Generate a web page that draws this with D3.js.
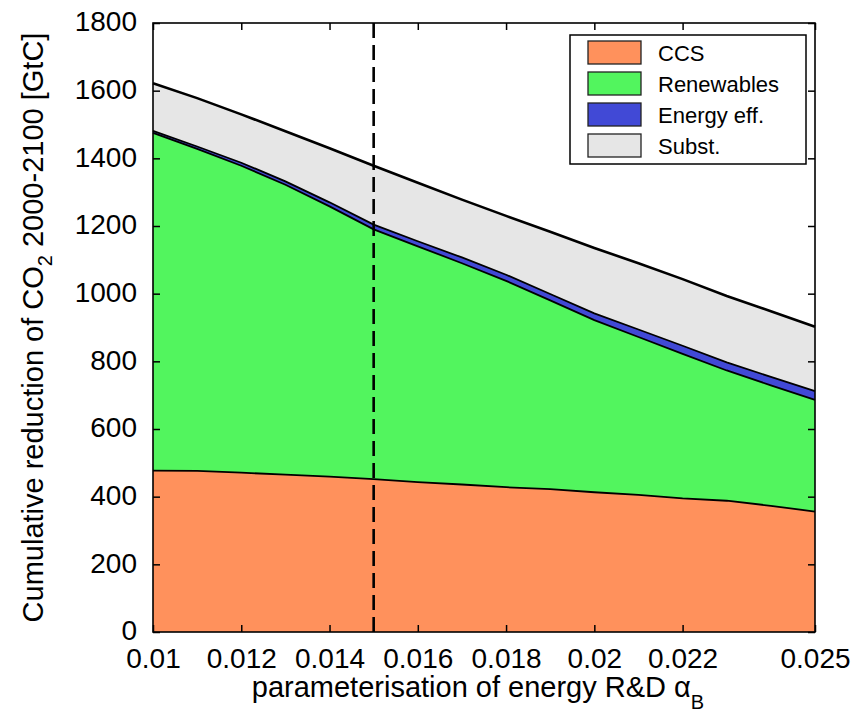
<!DOCTYPE html>
<html>
<head>
<meta charset="utf-8">
<script src="https://cdn.jsdelivr.net/npm/d3@7"></script>
<style>
  html, body { margin: 0; padding: 0; background: #fff; }
  svg { display: block; font-family: "Liberation Sans", Arial, Helvetica, sans-serif; }
</style>
</head>
<body>
<svg id="chart" width="863" height="714"></svg>
<script>
// Energy R&D parameter values (x axis)
const alphaB = [0.010, 0.011, 0.012, 0.013, 0.014, 0.015, 0.016, 0.017,
                0.018, 0.019, 0.020, 0.021, 0.022, 0.023, 0.024, 0.025];

// Contribution of each option to cumulative CO2 reduction 2000-2100 [GtC]
const ccs        = [477, 476, 471, 465, 459, 452, 443, 436, 428, 422, 413, 405, 395, 388, 373, 356];
const renewables = [998, 952, 907, 857, 799, 738, 697, 654, 610, 558, 509, 467, 427, 385, 356, 330];
const energyEff  = [6, 7, 9, 10, 12, 14, 15, 17, 18, 19, 20, 22, 24, 24, 25, 26];
const subst      = [141, 143, 143, 148, 160, 174, 173, 171, 174, 184, 193, 196, 197, 196, 194, 190];

const seriesNames  = ["CCS", "Renewables", "Energy eff.", "Subst."];
const seriesColors = ["#ff915c", "#52f55e", "#4149d6", "#e6e6e6"];

const xTicks = [0.010, 0.012, 0.014, 0.016, 0.018, 0.020, 0.022, 0.025];
const xTickLabels = ["0.01", "0.012", "0.014", "0.016", "0.018", "0.02", "0.022", "0.025"];
const yTicks = [0, 200, 400, 600, 800, 1000, 1200, 1400, 1600, 1800];
const markerAlpha = 0.015;

const svg = d3.select("#chart");
const margin = { left: 153, top: 23, right: 48, bottom: 82 };
const W = 863 - margin.left - margin.right;
const H = 714 - margin.top - margin.bottom;

const x = d3.scaleLinear().domain([0.010, 0.025]).range([0, W]);
const y = d3.scaleLinear().domain([0, 1800]).range([H, 0]);

const g = svg.append("g").attr("transform", `translate(${margin.left},${margin.top})`);

// Stacked table built from the series arrays
const keys = ["ccs", "renewables", "energyEff", "subst"];
const rows = alphaB.map((a, i) => ({
  a, ccs: ccs[i], renewables: renewables[i], energyEff: energyEff[i], subst: subst[i]
}));
const stacked = d3.stack().keys(keys)(rows);

const area = d3.area()
  .x(d => x(d.data.a))
  .y0(d => y(d[0]))
  .y1(d => y(d[1]));
const topLine = d3.line()
  .x(d => x(d.data.a))
  .y(d => y(d[1]));

stacked.forEach((s, i) => {
  g.append("path")
    .datum(s)
    .attr("d", area)
    .attr("fill", seriesColors[i])
    .attr("stroke", "none");
});
stacked.forEach((s, i) => {
  g.append("path")
    .datum(s)
    .attr("d", topLine)
    .attr("fill", "none")
    .attr("stroke", "#000")
    .attr("stroke-width", i === 3 ? 2.6 : 1.8);
});

// Vertical dashed marker
g.append("line")
  .attr("x1", x(markerAlpha)).attr("x2", x(markerAlpha))
  .attr("y1", y(0)).attr("y2", y(1800))
  .attr("stroke", "#000")
  .attr("stroke-width", 2.6)
  .attr("stroke-dasharray", "15,7");

// Axes: inward ticks on all four sides
const tickLen = 7;
const fontTick = 28;
const xAxisB = d3.axisBottom(x).tickValues(xTicks)
  .tickFormat((d, i) => xTickLabels[i]).tickSizeInner(-tickLen).tickSizeOuter(0).tickPadding(16);
const xAxisT = d3.axisTop(x).tickValues(xTicks).tickFormat("").tickSizeInner(-tickLen).tickSizeOuter(0);
const yAxisL = d3.axisLeft(y).tickValues(yTicks).tickFormat(d3.format("d"))
  .tickSizeInner(-tickLen).tickSizeOuter(0).tickPadding(16);
const yAxisR = d3.axisRight(y).tickValues(yTicks).tickFormat("").tickSizeInner(-tickLen).tickSizeOuter(0);

function styleAxis(sel) {
  sel.select(".domain").remove();
  sel.selectAll(".tick line").attr("stroke", "#000").attr("stroke-width", 1.5);
  sel.selectAll(".tick text")
    .attr("fill", "#000")
    .style("font-size", fontTick + "px")
    .style("font-family", '"Liberation Sans", Arial, sans-serif');
}
g.append("g").attr("transform", `translate(0,${H})`).call(xAxisB).call(styleAxis);
g.append("g").call(xAxisT).call(styleAxis);
const yAxisG = g.append("g").call(yAxisL).call(styleAxis);
yAxisG.selectAll(".tick text").attr("dy", "0.28em");

// Plot frame
g.append("rect")
  .attr("x", 0).attr("y", 0).attr("width", W).attr("height", H)
  .attr("fill", "none").attr("stroke", "#000").attr("stroke-width", 1.6);
g.append("g").attr("transform", `translate(${W},0)`).call(yAxisR).call(styleAxis);

// Axis titles
const xTitle = svg.append("text")
  .attr("x", margin.left + W / 2 - 6)
  .attr("y", 697)
  .attr("text-anchor", "middle")
  .attr("fill", "#000")
  .style("font-size", "29px");
xTitle.append("tspan").text("parameterisation of energy R&D \u03b1");
xTitle.append("tspan").attr("dy", 12).style("font-size", "20px").text("B");

const yTitle = svg.append("text")
  .attr("transform", `translate(43,${margin.top + H / 2}) rotate(-90)`)
  .attr("text-anchor", "middle")
  .attr("fill", "#000")
  .style("font-size", "29px");
yTitle.append("tspan").text("Cumulative reduction of CO");
yTitle.append("tspan").attr("dy", 9).style("font-size", "20px").text("2");
yTitle.append("tspan").attr("dy", -9).text(" 2000-2100 [GtC]");

// Legend
const lg = svg.append("g").attr("transform", "translate(570,35)");
lg.append("rect")
  .attr("width", 236).attr("height", 129)
  .attr("fill", "#fff").attr("stroke", "#000").attr("stroke-width", 1.5);
seriesNames.forEach((name, i) => {
  const cy = 17.5 + i * 31;
  lg.append("rect")
    .attr("x", 18).attr("y", cy - 11.5)
    .attr("width", 53).attr("height", 23)
    .attr("fill", seriesColors[i]).attr("stroke", "#222").attr("stroke-width", 1.3);
  lg.append("text")
    .attr("x", 88).attr("y", cy + 8)
    .attr("fill", "#000")
    .style("font-size", "22px")
    .text(name);
});
</script>
</body>
</html>
